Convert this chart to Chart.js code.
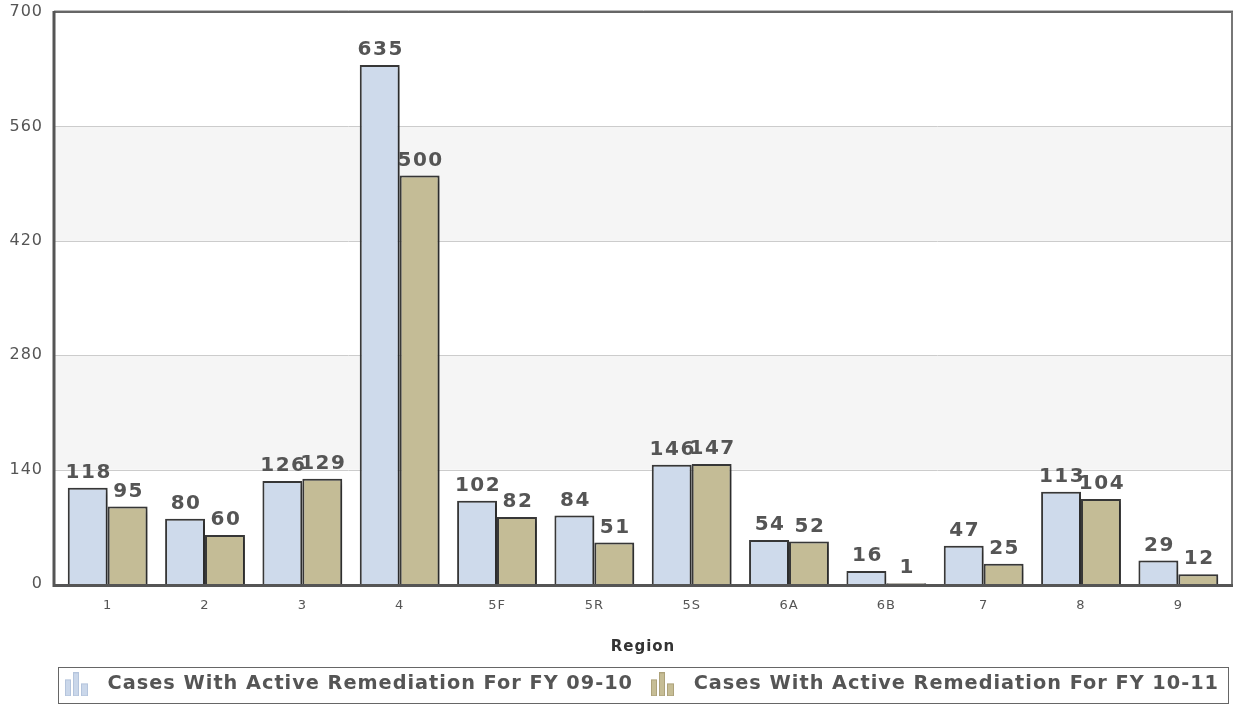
<!DOCTYPE html>
<html>
<head>
<meta charset="utf-8">
<script src="https://cdn.jsdelivr.net/npm/chart.js@4"></script>
<style>
  html, body { margin: 0; padding: 0; background: #fff; }
  #wrap { width: 1234px; height: 705px; position: relative; }
</style>
</head>
<body>
<div id="wrap"><canvas id="myChart"></canvas></div>
<script>
'use strict';

// data
const regions = ['1', '2', '3', '4', '5F', '5R', '5S', '6A', '6B', '7', '8', '9'];
const fy0910 = [118, 80, 126, 635, 102, 84, 146, 54, 16, 47, 113, 29];
const fy1011 = [95, 60, 129, 500, 82, 51, 147, 52, 1, 25, 104, 12];
const seriesNames = ['Cases With Active Remediation For FY 09-10', 'Cases With Active Remediation For FY 10-11'];
const yTicks = [0, 140, 280, 420, 560, 700];

const blue = '#cedaeb';
const tan = '#c4bc96';
const font = 'DejaVu Sans';

// little bar-chart icon for the legend (transparent room on the left = gap to previous item)
function legendIcon(color, edge) {
  const c = document.createElement('canvas');
  c.width = 43; c.height = 24;
  const g = c.getContext('2d');
  g.fillStyle = color;
  g.strokeStyle = edge;
  [[10, 7, 6, 17], [18, 0, 6, 24], [26, 11, 7, 13]].forEach(r => {
    g.fillRect(r[0], r[1], r[2], r[3]);
    g.strokeRect(r[0] + 0.5, r[1] + 0.5, r[2] - 1, r[3] - 1);
  });
  return c;
}

// bands, grid lines and the frame
const framePlugin = {
  id: 'frame',
  beforeUpdate(chart) {
    chart.ctx.letterSpacing = '1px';
  },
  beforeDatasetsDraw(chart) {
    const ctx = chart.ctx;
    const a = chart.chartArea;
    const y = chart.scales.y;
    const l = a.left - 5, r = a.right + 5;
    ctx.save();
    for (let i = 0; i < yTicks.length - 1; i++) {
      if (i % 2 === 1) {
        const t = y.getPixelForValue(yTicks[i + 1]);
        const b = y.getPixelForValue(yTicks[i]);
        ctx.fillStyle = '#f5f5f5';
        ctx.fillRect(l, t, r - l, b - t);
      }
    }
    ctx.strokeStyle = '#cccccc';
    ctx.lineWidth = 1;
    yTicks.slice(1, -1).forEach(v => {
      const p = Math.round(y.getPixelForValue(v)) + 0.5;
      ctx.beginPath(); ctx.moveTo(l, p); ctx.lineTo(r, p); ctx.stroke();
    });
    const top = y.getPixelForValue(700), bot = y.getPixelForValue(0);
    ctx.strokeStyle = '#bbbbbb'; ctx.lineWidth = 1;
    ctx.beginPath(); ctx.moveTo(l, top - 1.5); ctx.lineTo(r + 1, top - 1.5); ctx.stroke();
    ctx.strokeStyle = '#666666'; ctx.lineWidth = 2;
    ctx.beginPath(); ctx.moveTo(l, top); ctx.lineTo(r + 1, top); ctx.stroke();
    ctx.strokeStyle = '#777777'; ctx.lineWidth = 2;
    ctx.beginPath(); ctx.moveTo(r, top); ctx.lineTo(r, bot); ctx.stroke();
    ctx.restore();
    // soft shadow under the bars
    ctx.save();
    ctx.shadowColor = 'rgba(0,0,0,0.3)';
    ctx.shadowBlur = 6;
    ctx.shadowOffsetX = 3;
    ctx.shadowOffsetY = 2;
  },
  afterDatasetsDraw(chart) {
    const ctx = chart.ctx;
    ctx.restore();
    const a = chart.chartArea;
    const y = chart.scales.y;
    const l = a.left - 5, r = a.right + 5;
    const top = y.getPixelForValue(700), bot = y.getPixelForValue(0);
    ctx.save();
    ctx.strokeStyle = '#555555'; ctx.lineWidth = 3;
    ctx.beginPath(); ctx.moveTo(l, top - 1); ctx.lineTo(l, bot + 1.5); ctx.lineTo(r + 1, bot + 1.5); ctx.stroke();
    // value labels
    ctx.font = 'bold 20px "' + font + '"';
    ctx.letterSpacing = '1.5px';
    ctx.fillStyle = '#555555';
    ctx.textAlign = 'center';
    ctx.textBaseline = 'bottom';
    chart.data.datasets.forEach((ds, di) => {
      chart.getDatasetMeta(di).data.forEach((bar, i) => {
        ctx.fillText(String(ds.data[i]), bar.x + 1, bar.y - 5);
      });
    });
    ctx.restore();
  },
  afterDraw(chart) {
    const lg = chart.legend;
    const ctx = chart.ctx;
    ctx.save();
    ctx.strokeStyle = '#666666';
    ctx.lineWidth = 1;
    ctx.strokeRect(58.5, Math.round(lg.top) + 0.5, chart.width - 64, Math.round(lg.height) - 1);
    ctx.restore();
  }
};

new Chart(document.getElementById('myChart'), {
  type: 'bar',
  data: {
    labels: regions,
    datasets: [{
      label: seriesNames[0],
      data: fy0910,
      backgroundColor: blue,
      borderColor: '#3a3a3a',
      borderWidth: 2,
      pointStyle: legendIcon('#cad7ea', '#b4c4dc')
    }, {
      label: seriesNames[1],
      data: fy1011,
      backgroundColor: tan,
      borderColor: '#3a3a3a',
      borderWidth: 2,
      pointStyle: legendIcon('#c6bd95', '#ada27a')
    }]
  },
  options: {
    responsive: true,
    maintainAspectRatio: false,
    animation: false,
    layout: { padding: { top: 12, right: 7, left: 0, bottom: 1 } },
    datasets: { bar: { categoryPercentage: 0.82, barPercentage: 1 } },
    scales: {
      x: {
        grid: { display: false, drawTicks: false },
        border: { display: false },
        ticks: { color: '#555', font: { family: font, size: 13 }, padding: 14 },
        title: { display: true, text: 'Region', color: '#333', font: { family: font, size: 15, weight: 'bold' }, padding: { top: 10, bottom: 11 } }
      },
      y: {
        min: 0,
        max: 700,
        afterFit(scale) {
          scale.width = 59;
          scale.paddingTop = 0;
          scale.paddingBottom = 0;
        },
        afterBuildTicks(scale) { scale.ticks = yTicks.map(v => ({ value: v })); },
        grid: { display: false, drawTicks: false },
        border: { display: false },
        ticks: { color: '#555', font: { family: font, size: 16 }, padding: 16 }
      }
    },
    plugins: {
      tooltip: { enabled: false },
      legend: {
        position: 'bottom',
        align: 'end',
        labels: {
          usePointStyle: true,
          pointStyleWidth: 43,
          color: '#555',
          font: { family: font, size: 19.3, weight: 'bold' },
          padding: 8
        }
      }
    }
  },
  plugins: [framePlugin]
});
</script>
</body>
</html>
